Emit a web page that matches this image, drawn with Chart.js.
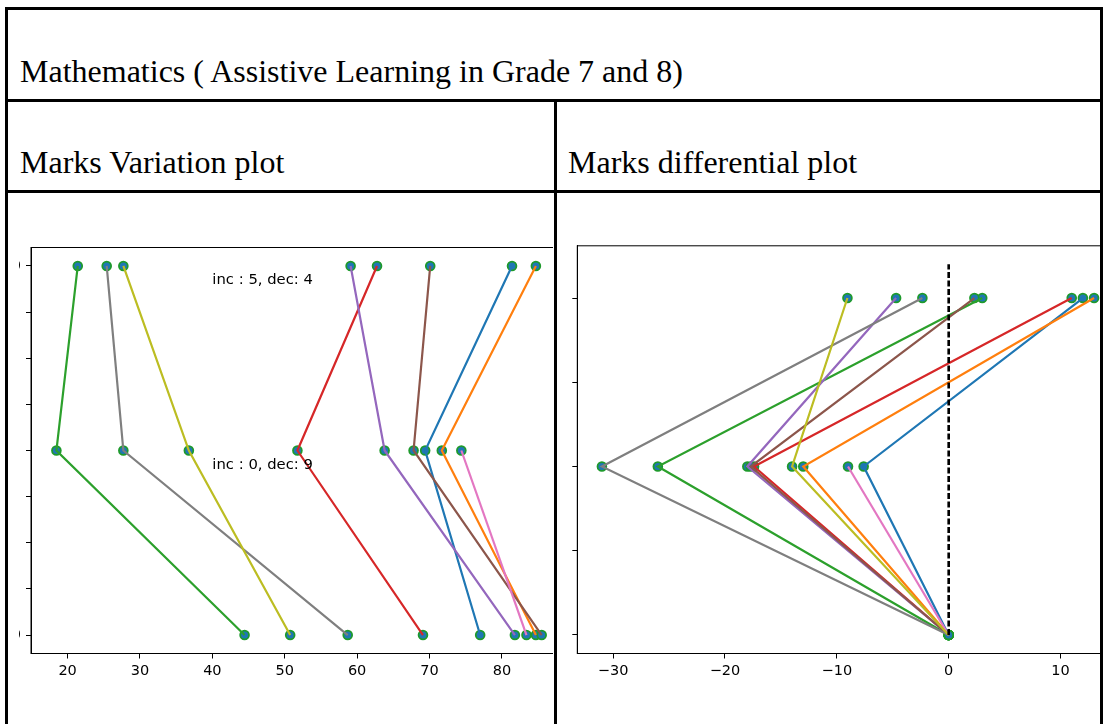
<!DOCTYPE html>
<html>
<head>
<meta charset="utf-8">
<script src="https://cdn.jsdelivr.net/npm/chart.js@4.4.1/dist/chart.umd.min.js"></script>
<style>
  html, body { margin: 0; padding: 0; background: #fff; }
  body { position: relative; width: 1103px; height: 724px; overflow: hidden; }
  .rule { position: absolute; background: #000; }
  .cap {
    position: absolute; white-space: nowrap; color: #000;
    font-family: "Liberation Serif", "Times New Roman", serif;
    font-size: 32px; line-height: 32px;
  }
  .clip { position: absolute; overflow: hidden; }
  .clip canvas { position: absolute; top: 0; }
</style>
</head>
<body>
  <!-- table frame -->
  <div class="rule" style="left:5px;top:7px;width:1098px;height:3px"></div>
  <div class="rule" style="left:5px;top:7px;width:3px;height:717px"></div>
  <div class="rule" style="left:1100px;top:7px;width:3px;height:717px"></div>
  <div class="rule" style="left:5px;top:99px;width:1098px;height:3px"></div>
  <div class="rule" style="left:5px;top:190px;width:1098px;height:3px"></div>
  <div class="rule" style="left:554px;top:99px;width:3px;height:625px"></div>

  <div class="cap" style="left:20px;top:55px">Mathematics ( Assistive Learning in Grade 7 and 8)</div>
  <div class="cap" style="left:20px;top:146px">Marks Variation plot</div>
  <div class="cap" style="left:568px;top:146px">Marks differential plot</div>

  <div class="clip" style="left:19px;top:194px;width:534px;height:530px">
    <canvas id="marks" width="580" height="530" style="left:-19px;width:580px;height:530px"></canvas>
  </div>
  <div class="clip" style="left:568px;top:194px;width:532px;height:530px">
    <canvas id="diffs" width="592" height="530" style="left:-31px;width:592px;height:530px"></canvas>
  </div>

<script>
// Marks of each student in the three tests (y = 0, 1, 2 from bottom to top)
const test1 = [77.0, 84.7, 44.45, 69.1, 81.8, 85.5, 83.4, 58.7, 50.75];
const test2 = [69.4, 71.7, 18.45, 51.75, 63.8, 67.8, 74.4, 27.7, 36.75];
const test3 = [81.4, 84.7, 21.4, 62.75, 59.1, 70.1, null, 25.4, 27.7];

// Change of marks against the previous test (first test is the zero baseline)
const change1 = [0, 0, 0, 0, 0, 0, 0, 0, 0];
const change2 = [-7.6, -13.0, -26.0, -17.4, -18.0, -17.7, -9.0, -31.0, -14.0];
const change3 = [12.0, 13.0, 3.0, 11.0, -4.7, 2.3, null, -2.35, -9.05];

// Vertical position of each test
const levels = [0, 1, 2];

// Tick positions
const marksXTicks = [20, 30, 40, 50, 60, 70, 80];
const marksYTicks = [0, 0.25, 0.5, 0.75, 1, 1.25, 1.5, 1.75, 2];
const diffXTicks = [-30, -20, -10, 0, 10];
const diffYTicks = [0, 0.5, 1, 1.5, 2];

// Increase / decrease counts between consecutive tests
const notes = [
  { text: 'inc : 5, dec: 4', x: 40, y: 1.9 },
  { text: 'inc : 0, dec: 9', x: 40, y: 0.9 }
];

// Zero reference of the differential plot (x = 0, from y = 0 up to 2.2)
const zeroRefX = [0, 0];
const zeroRefY = [0, 2.2];

const lineColors = ['#1f77b4', '#ff7f0e', '#2ca02c', '#d62728', '#9467bd',
                    '#8c564b', '#e377c2', '#7f7f7f', '#bcbd22'];
const markerFill = '#1f77b4';
const markerEdge = '#1e9a2c';
const tickFont = { family: 'DejaVu Sans', size: 14.5 };

function studentPoints(cols) {
  return lineColors.map((_, i) =>
    cols.map((col, k) => col[i] == null ? null : { x: col[i], y: levels[k] })
        .filter(p => p !== null));
}

function buildDatasets(cols, extra) {
  const paths = studentPoints(cols);
  const sets = [];
  // markers first (drawn underneath the lines)
  sets.push({
    data: paths.flat(),
    showLine: false,
    pointRadius: 4.4,
    pointBorderWidth: 1.8,
    pointBackgroundColor: markerFill,
    pointBorderColor: markerEdge,
    order: 1000
  });
  paths.forEach((pts, i) => {
    sets.push({
      data: pts,
      showLine: true,
      borderColor: lineColors[i],
      borderWidth: 2.2,
      pointRadius: 0,
      tension: 0,
      order: 100 - i
    });
  });
  if (extra) sets.push(extra);
  return sets;
}

const frame = {
  id: 'frame',
  afterDraw(chart) {
    const a = chart.chartArea, ctx = chart.ctx;
    ctx.save();
    ctx.strokeStyle = '#000';
    ctx.lineWidth = 1;
    ctx.strokeRect(a.left, a.top, a.right - a.left, a.bottom - a.top);
    ctx.restore();
  }
};

const noteText = {
  id: 'noteText',
  afterDatasetsDraw(chart, args, opts) {
    if (!opts.items) return;
    const ctx = chart.ctx, sx = chart.scales.x, sy = chart.scales.y;
    ctx.save();
    ctx.fillStyle = '#000';
    ctx.font = '14.8px "DejaVu Sans"';
    ctx.textAlign = 'left';
    ctx.textBaseline = 'alphabetic';
    opts.items.forEach(n => ctx.fillText(n.text, sx.getPixelForValue(n.x), sy.getPixelForValue(n.y)));
    ctx.restore();
  }
};

function scaleOpts(min, max, ticks, label, size, isX) {
  return {
    type: 'linear',
    min, max,
    bounds: 'data',
    afterBuildTicks: s => { s.ticks = ticks.map(v => ({ value: v })); },
    afterFit: s => { if (isX) s.height = size; else s.width = size; },
    grid: { display: true, drawOnChartArea: false, drawTicks: true, tickLength: 5, color: '#000', lineWidth: 1 },
    border: { display: true, color: '#000', width: 1 },
    ticks: {
      color: '#000', font: tickFont, padding: isX ? 4 : 5,
      maxRotation: 0, minRotation: 0, autoSkip: false,
      callback: label
    }
  };
}

const baseOptions = (pad, xs, ys, items) => ({
  responsive: false,
  animation: false,
  devicePixelRatio: 1,
  layout: { padding: pad },
  plugins: { legend: { display: false }, tooltip: { enabled: false }, noteText: { items } },
  scales: { x: xs, y: ys }
});

const minusLabel = v => String(v).replace('-', '\u2212');

// Marks variation plot
new Chart(document.getElementById('marks'), {
  type: 'scatter',
  data: { datasets: buildDatasets([test1, test2, test3]) },
  options: baseOptions(
    { left: 0, right: 14, top: 53.5, bottom: 0 },
    scaleOpts(14.94, 88.86, marksXTicks, v => String(v), 70.5, true),
    scaleOpts(-0.1, 2.1, marksYTicks, v => (v === 0 || v === 2) ? v.toFixed(1) : '', 31, false),
    notes
  ),
  plugins: [frame, noteText]
});

// Marks differential plot
new Chart(document.getElementById('diffs'), {
  type: 'scatter',
  data: {
    datasets: buildDatasets([change1, change2, change3], {
      data: zeroRefX.map((x, k) => ({ x, y: zeroRefY[k] })),
      showLine: true,
      borderColor: '#000',
      borderWidth: 2.6,
      borderDash: [6, 2.5],
      pointRadius: 0,
      order: 0
    })
  },
  options: baseOptions(
    { left: 0, right: 10.3, top: 51.8, bottom: 0 },
    scaleOpts(-33.2, 15.2, diffXTicks, minusLabel, 70.5, true),
    scaleOpts(-0.11, 2.31, diffYTicks, () => '', 40.3, false),
    null
  ),
  plugins: [frame, noteText]
});
</script>
</body>
</html>
